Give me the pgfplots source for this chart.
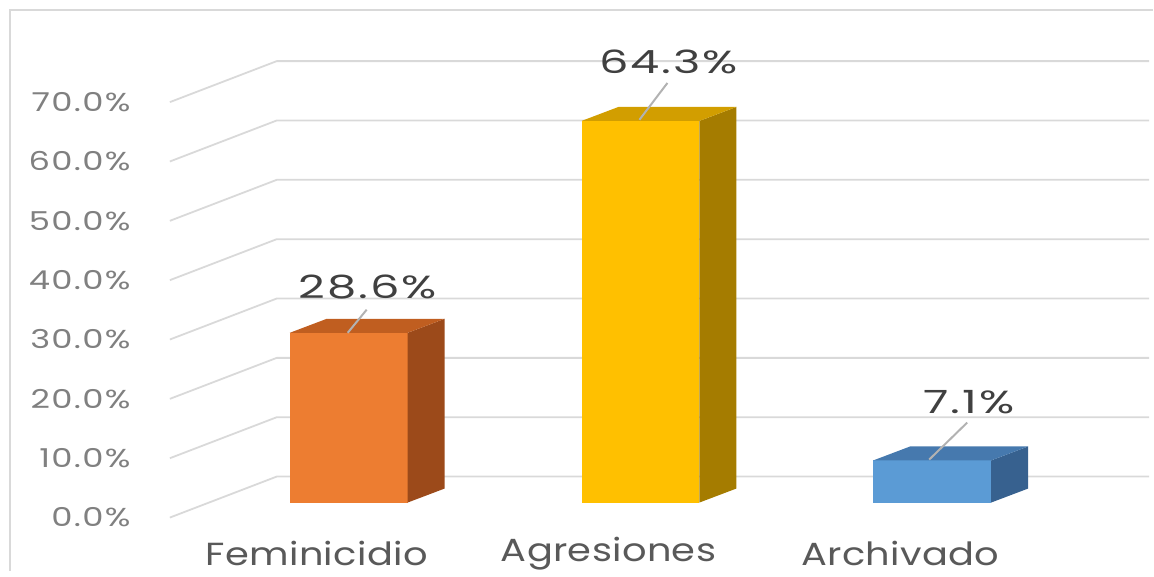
\documentclass[border=0pt]{standalone}
\usepackage{pgfplots}
\pgfplotsset{compat=1.18}
\usepackage{fontspec}
\setmainfont{Poppins}[FakeStretch=1.2]
\newfontfamily\tickfont{Poppins}[FakeStretch=1.3, LetterSpace=5]
\newfontfamily\datafont{Poppins}[FakeStretch=1.45, LetterSpace=6]
\newfontfamily\catfont{Poppins}[FakeStretch=1.2, LetterSpace=1]
\definecolor{gridc}{HTML}{D9D9D9}
\definecolor{oF}{HTML}{ED7D31}
\definecolor{oS}{HTML}{9C4A1A}
\definecolor{oT}{HTML}{C05E20}
\definecolor{yF}{HTML}{FFC000}
\definecolor{yS}{HTML}{A57C00}
\definecolor{yT}{HTML}{D29E00}
\definecolor{bF}{HTML}{5B9BD5}
\definecolor{bS}{HTML}{37618F}
\definecolor{bT}{HTML}{4679AE}
\definecolor{tickc}{HTML}{808080}
\definecolor{labc}{HTML}{404040}
\definecolor{catc}{HTML}{595959}
\begin{document}
\begin{tikzpicture}
\begin{axis}[
  width=577pt, height=285.5pt, scale only axis,
  xmin=0, xmax=1154, ymin=-11.45, ymax=84.68,
  axis lines=none, clip=false,
]
% invisible extent
\addplot[draw=none] coordinates {(0,-11.45) (1154,84.68)};
% frame
\addplot[gridc, line width=1pt] coordinates {(10,-11.45) (10,83.0) (1154,83.0)};
% gridlines (front edge, back wall)
\pgfplotsforeachungrouped \t in {0,10,...,70}{
  \pgfmathsetmacro{\a}{\t-2.53}
  \pgfmathsetmacro{\b}{\t+4.38}
  \edef\tmp{\noexpand\addplot[gridc, line width=0.9pt] coordinates {(170,\a) (277,\b) (1150,\b)};}
  \tmp
  \edef\tmp{\noexpand\node[anchor=east, inner sep=0pt, text=tickc, font=\noexpand\tickfont\noexpand\fontsize{13}{15}\noexpand\selectfont] at (axis cs:131,\a) {\t.0\noexpand\%};}
  \tmp
}
% Feminicidio
\addplot[ybar, bar width=118, bar shift=0pt, fill=oF, draw=none] coordinates {(349,28.6)};
\addplot[fill=oS, draw=none] coordinates {(408,0) (445,2.36) (445,30.96) (408,28.6)} -- cycle;
\addplot[fill=oT, draw=none] coordinates {(290,28.6) (408,28.6) (445,30.96) (327,30.96)} -- cycle;
% Agresiones
\addplot[ybar, bar width=118, bar shift=0pt, fill=yF, draw=none] coordinates {(641,64.3)};
\addplot[fill=yS, draw=none] coordinates {(700,0) (737,2.36) (737,66.66) (700,64.3)} -- cycle;
\addplot[fill=yT, draw=none] coordinates {(582,64.3) (700,64.3) (737,66.66) (619,66.66)} -- cycle;
% Archivado
\addplot[ybar, bar width=118, bar shift=0pt, fill=bF, draw=none] coordinates {(933,7.1)};
\addplot[fill=bS, draw=none] coordinates {(992,0) (1029,2.36) (1029,9.46) (992,7.1)} -- cycle;
\addplot[fill=bT, draw=none] coordinates {(874,7.1) (992,7.1) (1029,9.46) (911,9.46)} -- cycle;
% leader lines
\addplot[gray!60, line width=1pt] coordinates {(348,28.6) (367,32.5)};
\addplot[gray!60, line width=1pt] coordinates {(640,64.5) (668,70.7)};
\addplot[gray!60, line width=1pt] coordinates {(930,7.24) (968,13.47)};
% data labels
\node[text=labc, font=\datafont\fontsize{16}{18}\selectfont] at (axis cs:368,36.36) {28.6\%};
\node[text=labc, font=\datafont\fontsize{16}{18}\selectfont] at (axis cs:669,74.24) {64.3\%};
\node[text=labc, font=\datafont\fontsize{16}{18}\selectfont] at (axis cs:970,17.0) {7.1\%};
% category labels
\node[text=catc, font=\catfont\fontsize{16}{18}\selectfont] at (axis cs:317,-8.6) {Feminicidio};
\node[text=catc, font=\catfont\fontsize{16}{18}\selectfont] at (axis cs:609,-8.6) {Agresiones};
\node[text=catc, font=\catfont\fontsize{16}{18}\selectfont] at (axis cs:901,-8.6) {Archivado};
\end{axis}
\end{tikzpicture}
\end{document}
